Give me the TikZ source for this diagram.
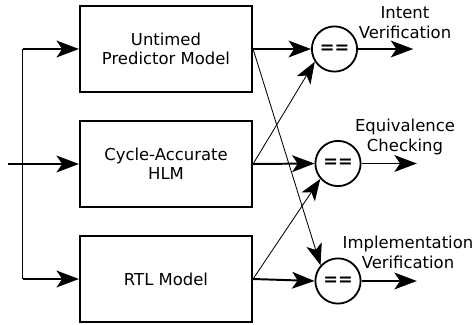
\documentclass[tikz,border=0pt]{standalone}
\usepackage{fontspec}
\setmainfont{DejaVu Sans}
\usetikzlibrary{arrows.meta}

\begin{document}
\begin{tikzpicture}[
  font=\fontsize{11.7}{13.4}\selectfont,
  model/.style={
    draw, line width=1.5pt, minimum width=4.3cm, minimum height=2.15cm,
    align=center, inner sep=0pt
  },
  cmp/.style={
    draw, circle, line width=1.3pt, minimum size=1.13cm, inner sep=0pt,
    font=\fontsize{12.5}{13.4}\selectfont\bfseries
  },
  flow/.style={
    line width=1.4pt, -{Stealth[length=0.56cm, width=0.42cm, inset=0.14cm]}
  },
  cross/.style={
    line width=0.6pt, -{Stealth[length=0.54cm, width=0.4cm, inset=0.14cm]}
  },
  result/.style={
    align=center, font=\fontsize{11.7}{14.2}\selectfont
  }
]
\useasboundingbox (0, 0) rectangle (11.85, 8.1);

% ============================================================
% Models
% ============================================================
\node[model] (upm) at (4.15, 6.875) {Untimed\\Predictor Model};
\node[model] (hlm) at (4.15, 4.0)   {Cycle-Accurate\\HLM};
\node[model] (rtl) at (4.15, 1.125) {RTL Model};

% Input fan-out
\coordinate (src)    at (0.2, 4.0);
\coordinate (bustop) at (0.5675, 6.875);
\coordinate (busbot) at (0.5675, 1.125);

\draw[line width=1pt] (bustop) -- (busbot);
\draw[flow] (src) -- (hlm.west);
\draw[flow] (bustop) -- (upm.west);
\draw[flow] (busbot) -- (rtl.west);

% ============================================================
% Comparators
% ============================================================
\node[cmp] (eq1) at (8.3625, 6.875) {==};
\node[cmp] (eq2) at (8.45, 4.0125)  {==};
\node[cmp] (eq3) at (8.45, 1.075)   {==};

\draw[flow] (upm.east) -- (eq1.west);
\draw[flow] (hlm.east) -- (eq2.west);
\draw[flow] (rtl.east) -- (eq3.west);

% Crossing comparisons
\draw[cross] (upm.east) -- (eq3.138);
\draw[cross] (hlm.east) -- (eq1.213);
\draw[cross] (rtl.east) -- (eq2.221);

% ============================================================
% Results
% ============================================================
\coordinate (out1) at (10.33, 6.875);
\coordinate (out2) at (10.42, 4.0125);
\coordinate (out3) at (10.42, 1.075);

\draw[flow] (eq1.east) -- (out1);
\draw[flow] (eq2.east) -- (out2);
\draw[flow] (eq3.east) -- (out3);

\node[result] (intent) at (10.125, 7.54) {Intent\\Verification};
\node[result] (equiv)  at (10.125, 4.67) {Equivalence\\Checking};
\node[result] (impl)   at (10.2, 1.78)   {Implementation\\Verification};

\end{tikzpicture}
\end{document}
